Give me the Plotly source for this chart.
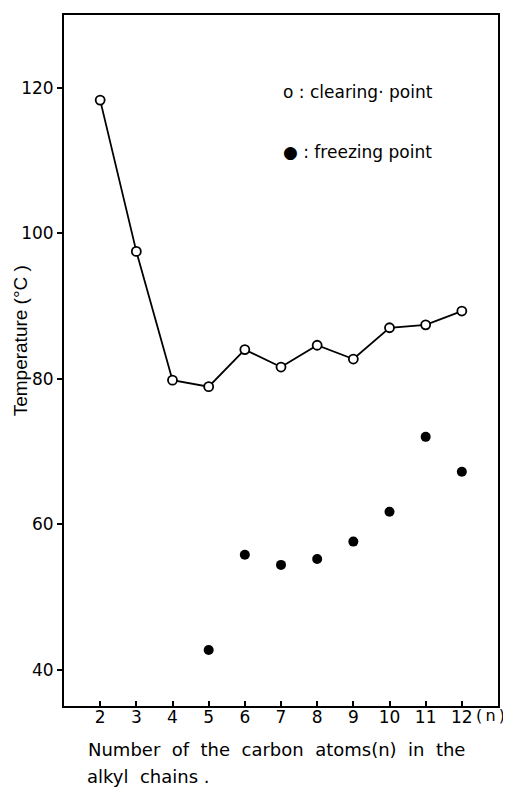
import plotly.graph_objects as go

n_clearing = [2, 3, 4, 5, 6, 7, 8, 9, 10, 11, 12]
clearing_point = [118.3, 97.5, 79.8, 78.9, 84.0, 81.6, 84.6, 82.7, 87.0, 87.4, 89.3]

n_freezing = [5, 6, 7, 8, 9, 10, 11, 12]
freezing_point = [42.7, 55.8, 54.4, 55.2, 57.6, 61.7, 72.0, 67.2]

x_ticks = [2, 3, 4, 5, 6, 7, 8, 9, 10, 11, 12]
y_ticks = [40, 60, 80, 100, 120]

FONT = "DejaVu Sans"
SP = "\u00a0"
THIN = "\u2009"

fig = go.Figure()
fig.add_trace(go.Scatter(
    x=n_clearing, y=clearing_point, mode="lines+markers",
    line=dict(color="black", width=1.8),
    marker=dict(symbol="circle", size=9, color="white",
                line=dict(color="black", width=1.8)),
    showlegend=False,
))
fig.add_trace(go.Scatter(
    x=n_freezing, y=freezing_point, mode="markers",
    marker=dict(symbol="circle", size=10, color="black"),
    showlegend=False,
))

# page body adds an 8px offset; figure is sized so the plot area lands at
# (64,13)-(498,706) in the window
fig.update_layout(
    width=503, height=779,
    margin=dict(l=56, r=13, t=5, b=81),
    paper_bgcolor="white", plot_bgcolor="white",
    font=dict(family=FONT, color="black", size=17),
    xaxis=dict(
        range=[1.0, 13.0], tickmode="array", tickvals=x_ticks,
        ticktext=[str(v) for v in x_ticks],
        ticks="inside", ticklen=5, tickwidth=1.5, tickcolor="black",
        showline=True, linecolor="black", linewidth=2, mirror=True,
        showgrid=False, zeroline=False,
        tickfont=dict(family=FONT, size=17),
        ticklabelstandoff=-5,
    ),
    yaxis=dict(
        range=[35, 130], tickmode="array", tickvals=y_ticks,
        ticks="outside", ticklen=5, tickwidth=1.5, tickcolor="black",
        showline=True, linecolor="black", linewidth=2, mirror=True,
        showgrid=False, zeroline=False,
        tickfont=dict(family=FONT, size=17),
        ticklabelstandoff=0,
    ),
)

xtitle1 = SP.join(["Number", "of", "the", "carbon", "atoms(n)", "in", "the"]).replace(SP, " " + SP)
xtitle2 = "alkyl" + " " + SP + "chains ."

annotations = [
    dict(text="o : clearing· point", x=0.5, y=0.889, xanchor="left", yanchor="middle"),
    dict(text="● : freezing point", x=0.5, y=0.802, xanchor="left", yanchor="middle"),
    dict(text="(" + THIN + "n" + THIN + ")", x=0.947, y=-0.0144, xanchor="left",
         yanchor="middle", borderpad=0, font=dict(family=FONT, size=16)),
    dict(text=xtitle1, x=0.0507, y=-0.0635, xanchor="left", yanchor="middle",
         font=dict(family=FONT, size=18)),
    dict(text=xtitle2, x=0.0507, y=-0.1025, xanchor="left", yanchor="middle",
         font=dict(family=FONT, size=18), borderpad=0),
    dict(text="Temperature (°C )", x=-0.101, y=0.528, textangle=-90,
         xanchor="center", yanchor="middle", font=dict(family="Liberation Sans", size=19)),
]
for a in annotations:
    a.setdefault("font", dict(family=FONT, size=17))
    fig.add_annotation(xref="paper", yref="paper", showarrow=False, **a)

fig.write_html("out.html")
